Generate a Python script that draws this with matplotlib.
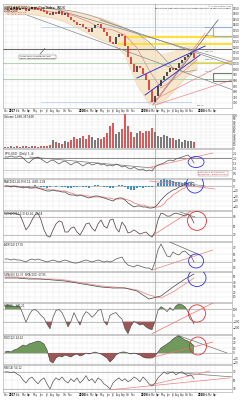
import numpy as np
import matplotlib.pyplot as plt
from matplotlib.patches import Ellipse, Rectangle

W, H = 242, 400

# ---- price panel data (one bar every ~2 weeks) ----
close = [1544, 1538, 1550, 1556, 1541, 1553, 1547, 1532, 1544, 1556, 1550, 1538,
         1529, 1520, 1505, 1496, 1517, 1502, 1520, 1496, 1508, 1472, 1445, 1427,
         1400, 1409, 1382, 1364, 1337, 1373, 1400, 1409, 1373, 1337, 1301, 1247,
         1229, 1292, 1319, 1301, 1211, 1112, 1049, 977, 1031, 1013, 959, 905,
         815, 707, 761, 851, 905, 941, 977, 1013, 995, 1013, 1058, 1085,
         1112, 1130, 1148, 1103]
band_x = [0, 4, 8, 12, 16, 20, 24, 28, 32, 36, 40, 44, 48, 52, 56, 60, 64]
band_hi = [1580, 1580, 1571, 1562, 1553, 1535, 1517, 1490, 1463, 1427, 1373, 1328, 1220, 1130, 1157, 1202, 1211]
band_lo = [1508, 1499, 1499, 1481, 1463, 1427, 1373, 1319, 1265, 1229, 1130, 860, 689, 689, 797, 923, 1013]
ma50 = [1544, 1544, 1544, 1535, 1517, 1508, 1472, 1427, 1373, 1355, 1310, 1193, 995, 833, 905, 995, 1085]
ma200 = [1553, 1553, 1553, 1553, 1544, 1535, 1517, 1490, 1454, 1409, 1373, 1328, 1247, 1130, 1013, 977, 995]

volume = [3, 3, 6, 3, 6, 3, 6, 6, 3, 6, 6, 3, 6, 6, 6, 9, 24, 18, 15, 12, 21, 18, 24, 33,
          27, 30, 36, 27, 39, 33, 24, 30, 27, 33, 45, 69, 78, 42, 48, 60, 105, 69, 48, 33,
          45, 54, 45, 51, 54, 63, 48, 36, 33, 39, 36, 30, 30, 24, 27, 18, 24, 21, 21, 18]

ratio = [2.1, 2.1, 2.2, 2.1, 2.1, 2.2, 2.0, 1.7, 1.5, 1.8, 2.0, 2.1,
         1.9, 1.7, 1.5, 1.7, 1.8, 1.6, 1.4, 1.6, 1.7, 1.5, 1.3, 1.5,
         1.6, 1.4, 1.2, 1.4, 1.5, 1.3, 1.4, 1.5, 1.3, 1.4, 1.2, 1.3,
         1.2, 1.4, 1.3, 1.1, 1.2, 1.0, 0.9, 1.1, 0.9, 0.8, 0.9, 0.7,
         0.8, 0.7, 1.1, 1.3, 1.4, 1.5, 1.7, 1.8, 1.7, 1.9, 2.0, 2.1,
         2.2, 2.3, 2.0, 1.5]

macd = [0, 0, -2, 0, -2, -2, -4, -2, -4, -4, -2, -4,
        -6, -8, -10, -10, -8, -10, -10, -12, -12, -16, -18, -18,
        -20, -18, -20, -22, -24, -22, -20, -20, -22, -24, -26, -28,
        -30, -26, -24, -24, -28, -34, -38, -42, -40, -40, -42, -42,
        -44, -44, -42, -36, -28, -22, -16, -12, -8, -6, -2, 0,
        4, 6, 8, 6]
signal = [0, 0, 0, 0, 0, -2, -2, -2, -2, -4, -4, -4,
          -4, -6, -6, -8, -8, -8, -10, -10, -10, -12, -14, -16,
          -18, -18, -18, -20, -20, -22, -22, -22, -22, -22, -24, -24,
          -26, -26, -26, -26, -26, -28, -30, -34, -36, -38, -38, -40,
          -42, -42, -42, -42, -40, -36, -28, -24, -18, -14, -10, -6,
          -4, 0, 2, 4]

stoch = [93, 93, 90, 93, 90, 87, 63, 37, 50, 70, 87, 93,
         70, 37, 17, 13, 37, 57, 67, 63, 30, 30, 43, 47,
         30, 20, 37, 57, 60, 43, 33, 57, 70, 50, 43, 70,
         73, 43, 30, 63, 50, 27, 30, 37, 30, 23, 27, 30,
         20, 13, 30, 70, 93, 90, 83, 83, 90, 93, 90, 87,
         83, 90, 80, 60]

adx = [36, 36, 33, 36, 33, 33, 30, 27, 33, 36, 33, 36,
       33, 30, 27, 30, 33, 30, 27, 30, 33, 30, 27, 24,
       24, 27, 30, 33, 30, 27, 30, 33, 30, 27, 30, 27,
       30, 36, 39, 42, 27, 18, 15, 12, 18, 15, 12, 9,
       9, 3, 27, 63, 81, 63, 45, 42, 57, 51, 48, 57,
       60, 51, 45, 27]

slow_x = [0, 4, 8, 12, 16, 20, 24, 28, 32, 36, 40, 44, 48, 52, 56, 60, 63]
slow_a = [48, 48, 46, 46, 44, 42, 38, 34, 30, 28, 28, 22, 6, 12, 30, 46, 56]
slow_b = [50, 50, 48, 46, 46, 44, 40, 36, 32, 30, 28, 24, 14, 8, 20, 36, 48]

cci = [155, 170, 155, 140, 155, 140, 15, -110, 0, 80, 95, 60,
       0, -45, -140, -215, -30, 80, 95, 45, -60, -185, -95, 45,
       -60, -155, -15, 60, 30, -30, 15, 80, 95, -95, -155, 0,
       30, 45, -15, -60, -215, -295, -170, -95, -125, -155, -140, -185,
       -215, -230, -95, 80, 140, 110, 60, 125, 80, 155, 185, 170,
       140, 60, -30, -140]

osc = [2, 4, 2, 6, 8, 12, 16, 14, 18, 20, 22, 24,
       22, 18, 6, -16, -20, -10, -6, -8, -4, -6, -8, -4,
       -2, -6, -4, 0, -2, 0, 2, 0, -2, -6, -10, -18,
       -12, -4, 0, 2, 2, 0, -2, 0, -2, -4, -8, -10,
       -10, -10, -6, 2, 10, 14, 18, 22, 28, 32, 34, 30,
       26, 24, 20, 14]

rsi = [70, 70, 68, 70, 65, 61, 51, 44, 54, 58, 49, 42,
       51, 56, 42, 30, 47, 56, 51, 58, 49, 44, 54, 47,
       56, 44, 51, 61, 49, 54, 44, 56, 51, 42, 37, 30,
       44, 51, 56, 49, 54, 47, 51, 58, 54, 47, 58, 51,
       42, 37, 44, 56, 63, 70, 65, 68, 70, 63, 68, 70,
       65, 61, 63, 54]

# hand-drawn trend lines: (x0, x1, y0, y1)
price_gray = [(7.3, 76, 1490, 815), (13.3, 75.7, 1571, 1067), (31.7, 75.7, 1445, 1040),
              (49.3, 71, 680, 1445), (51.7, 71, 770, 1445)]
price_red = [(49.3, 66.7, 680, 1328), (48.3, 75.7, 707, 1085), (50, 75.7, 680, 905)]
price_blue = [(44, 66.7, 923, 1211), (46.7, 65, 770, 1130)]
yellow_lines = [(40, 1292), (38, 1229), (61, 1058)]

mon = ['Jan', 'Feb', 'Mar', 'Apr', 'May', 'Jun', 'Jul', 'Aug', 'Sep', 'Oct', 'Nov', 'Dec']
year_m = [-12, 0, 12, 24, 36, 48]
year_x = [-21.1, 2.3, 25.7, 46.3, 65.3, 84.3]
month_m = np.arange(-1, 40)
month_pos = np.interp(month_m, year_m, year_x)
month_lab = [str(2007 + m // 12) if m % 12 == 0 else
             ('' if m % 12 == 11 and m > 0 else mon[m % 12]) for m in month_m]

x = np.arange(len(close))
fig = plt.figure(figsize=(W / 100, H / 100), dpi=100)
fig.patch.set_facecolor('white')


def panel(top, bottom, label, lab_color='#222222'):
    ax = fig.add_axes([3 / W, 1 - bottom / H, 229 / W, (bottom - top) / H])
    ax.set_xlim(-0.67, 75.67)
    ax.yaxis.tick_right()
    ax.tick_params(axis='both', length=0, labelsize=2, pad=0.6, colors='#333333')
    ax.set_xticks(month_pos)
    ax.set_xticklabels([])
    ax.grid(True, color='#e4e4e4', lw=0.3)
    ax.set_axisbelow(True)
    for s in ax.spines.values():
        s.set_color('#a0a0a0')
        s.set_linewidth(0.4)
    ax.axvline(50, color='#9fd09f', lw=0.8, zorder=1)
    ax.text(0.004, 0.975, label, transform=ax.transAxes, fontsize=1.9,
            va='top', ha='left', color=lab_color, zorder=10)
    return ax


def seg(ax, lines, color, lw=0.5, ls='-'):
    for x0, x1, y0, y1 in lines:
        ax.plot([x0, x1], [y0, y1], color=color, lw=lw, ls=ls, zorder=4)


def ring(ax, cx, cy, w, h, color):
    ax.add_patch(Ellipse((cx, cy), w, h, fill=False, ec=color, lw=0.6, zorder=6))


def dates(ax):
    ax.set_xticklabels(month_lab, fontsize=1.8)
    for t, lab in zip(ax.get_xticklabels(), month_lab):
        if lab.isdigit():
            t.set_color('#000000')
            t.set_fontweight('bold')


# ---- price ----
ax = panel(4, 108, '')
ax.set_ylim(653, 1589)
ax.set_yticks(range(700, 1600, 50))
ax.fill_between(band_x, band_lo, band_hi, color='#f6e3c4', alpha=0.85, lw=0, zorder=1)
ax.plot(band_x, band_hi, color='#e8c898', lw=0.3, zorder=1)
ax.plot(band_x, band_lo, color='#e8c898', lw=0.3, zorder=1)
ax.plot(band_x, ma50, color='#e58a8a', lw=0.5, zorder=3)
ax.plot(band_x, ma200, color='#999999', lw=0.5, zorder=3)
for xs, lvl in yellow_lines:
    ax.plot([xs, 75.7], [lvl, lvl], color='#ffe033', lw=1.5, zorder=2)
ax.axhline(1184, color='#6a6a6a', lw=0.8, zorder=2)
ax.axhline(1058, color='#b0d4b0', lw=0.7, zorder=2)
ax.axhline(914, color='#b0d4b0', lw=0.7, zorder=2)
ax.plot([12, 75.7], [1382, 1382], color='#b8d4ee', lw=0.6, zorder=2)
ax.plot([12, 62], [707, 707], color='#b8d4ee', lw=0.6, zorder=2)
seg(ax, price_gray, '#8a8a8a')
seg(ax, price_red, '#f08a8a')
seg(ax, price_blue, '#3a3ad0', lw=0.7)
ax.add_patch(Rectangle((69.3, 1301), 6.3, 81, fill=False, ec='#8fb3e0', lw=0.8, zorder=5))
ax.add_patch(Rectangle((69.3, 896), 6.3, 72, fill=False, ec='#777777', lw=0.8, zorder=5))
opens = [close[0]] + close[:-1]
cols = ['#d81e1e' if c < o else '#222222' for o, c in zip(opens, close)]
ax.vlines(x, [min(o, c) - 4 for o, c in zip(opens, close)],
          [max(o, c) + 4 for o, c in zip(opens, close)], colors=cols, lw=1.1, zorder=5)
for lvl in [1376, 1305, 1157, 1085, 977, 905]:
    ax.text(66.5, lvl, '%.2f' % lvl, fontsize=1.6, color='#555555', va='center', zorder=7)
ax.text(64, 668, '666.79', fontsize=1.6, color='#555555', zorder=7)
ax.text(5.0, 1112, 'Long-term resistance line\n(50% retracement of decline)', fontsize=1.7,
        color='#222222', va='center', zorder=8,
        bbox=dict(boxstyle='square,pad=0.3', fc='white', ec='#666666', lw=0.3))
ax.plot([11.7, 13.3], [1139, 1190], color='#444444', lw=0.4, zorder=8)
dates(ax)
ax.text(0.004, 0.985, '$SPX S&P 500 Large Cap Index  INDX', transform=ax.transAxes,
        fontsize=2.3, va='top', zorder=10)
ax.text(0.004, 0.955, '1-Oct-2009', transform=ax.transAxes, fontsize=1.9, va='top', zorder=10)
ax.text(0.004, 0.93, '— MA(50) 1034.88\n— MA(200) 950.20', transform=ax.transAxes,
        fontsize=1.7, va='top', color='#d04040', zorder=10)
ax.text(0.995, 0.99, '© StockCharts.com', transform=ax.transAxes, fontsize=1.7,
        va='top', ha='right', color='#444444', zorder=10)
ax.text(0.995, 0.965, 'Open 1054.91 High 1054.91 Low 1029.45 Close 1029.85 Vol 1.7B Chg -27.23 (-2.58%)',
        transform=ax.transAxes, fontsize=1.3, va='top', ha='right', zorder=10)

# ---- volume ----
ax = panel(114, 148, 'Volume 1,686,347,648')
ax.set_ylim(0, 105)
ax.set_yticks(range(0, 105, 10))
ax.bar(x, volume, width=0.65, color=['#d95a5a' if c == '#d81e1e' else '#7a7a7a' for c in cols],
       lw=0, zorder=3)

# ---- ratio ----
ax = panel(149, 178, '$SPX:$USD  (Daily) 1.46')
ax.set_ylim(0, 2.9)
ax.set_yticks([0.5, 1.0, 1.5, 2.0, 2.5])
ax.axhline(2.0, color='#777777', lw=0.6, zorder=2)
ax.axhline(0.8, color='#bbbbbb', lw=0.5, zorder=2)
ax.plot(x, ratio, color='#555555', lw=0.5, zorder=5)
seg(ax, [(8.3, 49.3, 2.1, 1.0)], '#777777')
seg(ax, [(47.3, 69.3, 1.0, 2.5)], '#f08080')
ring(ax, 63.7, 1.6, 5.3, 1.1, '#3030e0')
ax.text(64.5, 0.45, 'Ratio back at long-term\nresistance - watch closely', fontsize=1.6, color='#e02020',
        va='center', zorder=8, bbox=dict(boxstyle='square,pad=0.3', fc='white', ec='#888888', lw=0.3))

# ---- MACD ----
ax = panel(179, 210, 'MACD(12,26,9) 6.12, 4.08, 2.04')
ax.set_ylim(-48, 14)
ax.set_yticks(range(-40, 15, 10))
hist = np.array(macd) - np.array(signal)
ax.bar(x, hist, width=0.7, color='#3f8fc8', lw=0, zorder=3)
ax.axhline(0, color='#999999', lw=0.4, zorder=2)
ax.plot(x, signal, color='#f07070', lw=0.5, zorder=4)
ax.plot(x, macd, color='#444444', lw=0.5, zorder=5)
seg(ax, [(48.3, 70, 10, -6)], '#f08080')
seg(ax, [(53.3, 66.7, 10, 0)], '#888888')
ring(ax, 63.3, 4, 5.7, 36, '#3030e0')

# ---- stochastic ----
ax = panel(211, 241, 'Full STO(14,3,3) 62.40, 79.18')
ax.set_ylim(0, 100)
ax.set_yticks([20, 50, 80])
ax.axhline(80, color='#aaaaaa', lw=0.5)
ax.axhline(20, color='#aaaaaa', lw=0.5)
ax.plot(x, stoch, color='#5a4a4a', lw=0.55, zorder=5)
seg(ax, [(49, 64, 17, 113)], '#f07070')
seg(ax, [(58.3, 63.3, 97, 80)], '#777777')
ring(ax, 64, 67, 6.3, 63, '#e03030')

# ---- ADX-like ----
ax = panel(242, 271, 'ADX(14) 27.35')
ax.set_ylim(0, 87)
ax.set_yticks([10, 30, 50, 70])
ax.axhline(27, color='#aaaaaa', lw=0.5)
ax.plot(x, adx, color='#555555', lw=0.5, zorder=5)
seg(ax, [(53.3, 65, 93, 48)], '#666666')
seg(ax, [(49, 69.3, 3, 63)], '#f08080')
ring(ax, 63.7, 30, 5, 42, '#3030e0')

# ---- slow averages ----
ax = panel(272, 302, 'SMA(50) 52.30  SMA(100) 47.85', lab_color='#333333')
ax.set_ylim(0, 60)
ax.set_yticks([10, 20, 30, 40, 50])
ax.axhline(40, color='#aaaaaa', lw=0.5)
ax.plot(slow_x, slow_b, color='#f09090', lw=0.6, zorder=4)
ax.plot(slow_x, slow_a, color='#444444', lw=0.5, zorder=5)
ring(ax, 64, 48, 6, 34, '#3030e0')

# ---- CCI ----
ax = panel(303, 334, 'CCI(20) -140.21')
ax.set_ylim(-300, 200)
ax.set_yticks([-200, -100, 0, 100])
cci_a = np.array(cci)
ax.axhline(100, color='#aaaaaa', lw=0.5)
ax.axhline(-100, color='#aaaaaa', lw=0.5)
ax.fill_between(x, 100, cci_a, where=cci_a > 100, interpolate=True, color='#6f9a5c', lw=0, zorder=3)
ax.fill_between(x, -100, cci_a, where=cci_a < -100, interpolate=True, color='#9c5656', lw=0, zorder=3)
ax.plot(x, cci, color='#555555', lw=0.5, zorder=5)
seg(ax, [(49, 69.3, -295, 200)], '#f07070')
ring(ax, 64, 31, 5.7, 279, '#e03030')

# ---- oscillator ----
ax = panel(335, 364, 'ROC(12) 14.22')
ax.set_ylim(-22, 36)
ax.set_yticks([-20, -10, 0, 10, 20, 30])
osc_a = np.array(osc)
ax.axhline(0, color='#999999', lw=0.4)
ax.fill_between(x, 0, osc_a, where=osc_a >= 0, interpolate=True, color='#6f9a5c', lw=0, zorder=3)
ax.fill_between(x, 0, osc_a, where=osc_a <= 0, interpolate=True, color='#9c5656', lw=0, zorder=3)
ax.plot(x, osc, color='#3a3a3a', lw=0.4, zorder=5)
seg(ax, [(57.3, 74, 36, 0)], '#777777')
seg(ax, [(48.3, 69.3, -10, 22)], '#f07070')
ring(ax, 64.3, 14, 5.7, 36, '#e03030')

# ---- RSI ----
ax = panel(365, 392, 'RSI(14) 54.12')
ax.set_ylim(23, 86)
ax.set_yticks([30, 50, 70])
ax.axhline(70, color='#aaaaaa', lw=0.5)
ax.axhline(30, color='#aaaaaa', lw=0.5)
ax.plot(x, rsi, color='#555555', lw=0.5, zorder=5)
seg(ax, [(54, 76, 70, 58)], '#777777')
seg(ax, [(35, 75, 28, 56), (48.3, 68.3, 39, 72)], '#f08080')
dates(ax)

fig.savefig('out.png', dpi=100)
